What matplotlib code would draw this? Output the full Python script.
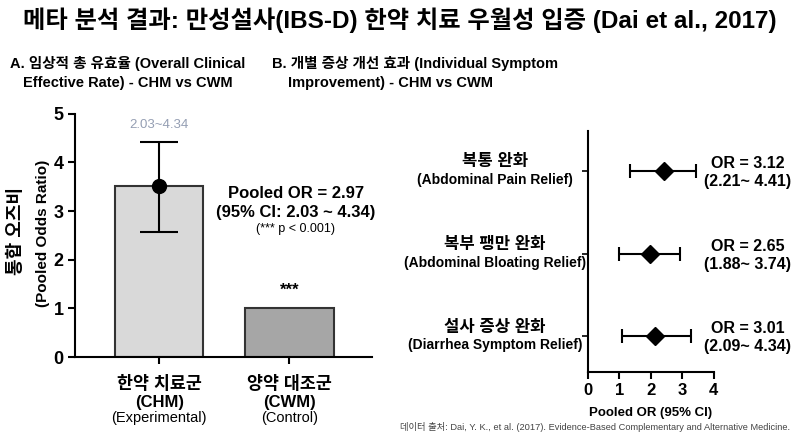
import matplotlib
matplotlib.use('Agg')
import matplotlib.pyplot as plt

plt.rcParams['font.family'] = ['Liberation Sans', 'Noto Sans CJK KR']

# Panel A data
groups_ko = ['한약 치료군', '양약 대조군']
groups_code = ['(CHM)', '(CWM)']
groups_role = ['(Experimental)', '(Control)']
bar_values = [3.52, 1.0]
chm_ci = [2.58, 4.43]
bar_colors = ['#d9d9d9', '#a6a6a6']

# Panel B data
symptoms_ko = ['복통 완화', '복부 팽만 완화', '설사 증상 완화']
symptoms_en = ['(Abdominal Pain Relief)', '(Abdominal Bloating Relief)', '(Diarrhea Symptom Relief)']
or_point = [2.42, 1.96, 2.12]
ci_low = [1.35, 0.98, 1.09]
ci_high = [3.45, 2.94, 3.28]
or_text = ['OR = 3.12', 'OR = 2.65', 'OR = 3.01']
ci_text = ['(2.21~ 4.41)', '(1.88~ 3.74)', '(2.09~ 4.34)']

fig = plt.figure(figsize=(8, 4.36), dpi=100)

fig.text(0.5, 0.953, '메타 분석 결과: 만성설사(IBS-D) 한약 치료 우월성 입증 (Dai et al., 2017)',
         ha='center', va='center', fontsize=17.5, fontweight='bold')
fig.text(0.013, 0.855, 'A. 임상적 총 유효율 (Overall Clinical', ha='left', va='center',
         fontsize=10.5, fontweight='bold')
fig.text(0.029, 0.81, 'Effective Rate) - CHM vs CWM', ha='left', va='center',
         fontsize=10.5, fontweight='bold')
fig.text(0.34, 0.855, 'B. 개별 증상 개선 효과 (Individual Symptom', ha='left', va='center',
         fontsize=10.5, fontweight='bold')
fig.text(0.36, 0.81, 'Improvement) - CHM vs CWM', ha='left', va='center',
         fontsize=10.5, fontweight='bold')
fig.text(0.5, 0.021, '데이터 출처: Dai, Y. K., et al. (2017). Evidence-Based Complementary and Alternative Medicine.',
         ha='left', va='center', fontsize=6.7, color='#444444')

# ---- Panel A : bar chart
ax1 = fig.add_axes([0.094, 0.181, 0.371, 0.558])
x = [0, 1]
ax1.bar(x, bar_values, width=0.68, color=bar_colors, edgecolor='#333333', linewidth=1.5)
ax1.errorbar(x[0], bar_values[0],
             yerr=[[bar_values[0] - chm_ci[0]], [chm_ci[1] - bar_values[0]]],
             fmt='o', color='black', markersize=10, capsize=14, elinewidth=1.5, capthick=1.5)
ax1.set_xlim(-0.646, 1.636)
ax1.set_ylim(0, 5)
ax1.set_yticks([0, 1, 2, 3, 4, 5])
ax1.set_xticks(x)
ax1.set_xticklabels(['', ''])
for s in ['top', 'right']:
    ax1.spines[s].set_visible(False)
for s in ['left', 'bottom']:
    ax1.spines[s].set_linewidth(1.5)
ax1.tick_params(axis='y', labelsize=13, width=1.5, length=5)
ax1.tick_params(axis='x', width=1.5, length=5)
for lab in ax1.get_yticklabels():
    lab.set_fontweight('bold')

for i in range(2):
    ax1.text(x[i], -0.11, groups_ko[i], transform=ax1.get_xaxis_transform(),
             ha='center', va='center', fontsize=12.5, fontweight='bold')
    ax1.text(x[i], -0.185, groups_code[i], transform=ax1.get_xaxis_transform(),
             ha='center', va='center', fontsize=12, fontweight='bold')
    ax1.text(x[i], -0.25, groups_role[i], transform=ax1.get_xaxis_transform(),
             ha='center', va='center', fontsize=10.5)

fig.text(0.021, 0.47, '통합 오즈비', rotation=90, ha='center', va='center',
         fontsize=13, fontweight='bold')
fig.text(0.054, 0.465, '(Pooled Odds Ratio)', rotation=90, ha='center', va='center',
         fontsize=11, fontweight='bold')

# faint ghosted CI label above the error bar
ax1.text(x[0], 4.76, '2.03~4.34', ha='center', va='center', fontsize=9.5,
         color='#7a86a0', alpha=0.8)

ax1.text(1.05, 3.37, 'Pooled OR = 2.97', ha='center', va='center', fontsize=12, fontweight='bold')
ax1.text(1.05, 2.98, '(95% CI: 2.03 ~ 4.34)', ha='center', va='center', fontsize=12, fontweight='bold')
ax1.text(1.05, 2.64, '(*** p < 0.001)', ha='center', va='center', fontsize=9)
ax1.text(x[1], 1.37, '***', ha='center', va='center', fontsize=12, fontweight='bold')

# ---- Panel B : forest plot
ax2 = fig.add_axes([0.735, 0.1475, 0.157, 0.551])
rows = [0, 1, 2]
for i in rows:
    ax2.errorbar(or_point[i], rows[i],
                 xerr=[[or_point[i] - ci_low[i]], [ci_high[i] - or_point[i]]],
                 fmt='D', color='black', markersize=9, capsize=5, elinewidth=1.5, capthick=1.5)
ax2.set_xlim(0, 4)
ax2.set_ylim(2.43, -0.48)
ax2.set_xticks([0, 1, 2, 3, 4])
ax2.set_yticks(rows)
ax2.set_yticklabels(['', '', ''])
for s in ['top', 'right']:
    ax2.spines[s].set_visible(False)
for s in ['left', 'bottom']:
    ax2.spines[s].set_linewidth(1.5)
ax2.tick_params(axis='x', labelsize=12, width=1.5, length=5)
ax2.tick_params(axis='y', width=1.2, length=4)
for lab in ax2.get_xticklabels():
    lab.set_fontweight('bold')
ax2.set_xlabel('Pooled OR (95% CI)', fontsize=9.5, fontweight='bold', labelpad=6)

for i in rows:
    ax2.text(-0.74, rows[i] - 0.11, symptoms_ko[i], transform=ax2.get_yaxis_transform(),
             ha='center', va='center', fontsize=12, fontweight='bold')
    ax2.text(-0.74, rows[i] + 0.11, symptoms_en[i], transform=ax2.get_yaxis_transform(),
             ha='center', va='center', fontsize=10, fontweight='bold')
    ax2.text(1.27, rows[i] - 0.09, or_text[i], transform=ax2.get_yaxis_transform(),
             ha='center', va='center', fontsize=11.5, fontweight='bold')
    ax2.text(1.27, rows[i] + 0.13, ci_text[i], transform=ax2.get_yaxis_transform(),
             ha='center', va='center', fontsize=11.5, fontweight='bold')

fig.savefig('out.png', dpi=100)
